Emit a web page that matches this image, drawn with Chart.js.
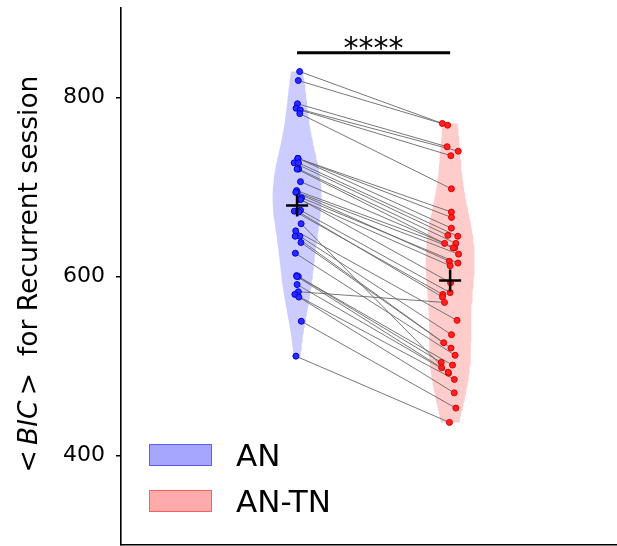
<!DOCTYPE html>
<html><head><meta charset="utf-8">
<script src="https://cdn.jsdelivr.net/npm/chart.js@4.4.1/dist/chart.umd.min.js"></script>
<style>html,body{margin:0;padding:0;background:#fff;}canvas{display:block;}</style>
</head><body>
<canvas id="c" width="617" height="546"></canvas>
<script>
// ---- data ----
const categories = ['AN', 'AN-TN'];
const anValues = [829, 819, 793, 788, 786, 782, 732, 732, 732, 727, 727, 720, 720, 706, 696, 694, 694, 688, 686, 686, 674, 673, 672, 659, 651, 645, 645, 638, 626, 601, 600, 600, 591, 583, 580, 577, 550, 511];
const antnValues = [771, 769, 745, 740, 735, 698, 672, 666, 654, 646, 645, 637, 637, 632, 632, 625, 617, 615, 612, 593, 582, 580, 577, 492, 551, 535, 526, 520, 512, 504, 501, 498, 493, 571, 485, 470, 453, 437];
const yTicks = [400, 600, 800];
const yRange = [300, 900];
const sigLevel = 850;
const sigText = '****';
const yTitleParts = [['<', false], ['\u2009', false], ['BIC', true], ['\u2009', false], ['>', false], ['  for Recurrent session', false]];

// ---- styling / layout ----
const FONT = '"DejaVu Sans", sans-serif';
const centers = [0, 1];
const violinHalf = 0.16;
const jitterWidth = [0.05, 0.12];
const jitterShift = [0.005, 0];
const violinFill = ['rgba(0,0,255,0.2)', 'rgba(255,0,0,0.2)'];
const legendFill = ['rgba(0,0,255,0.35)', 'rgba(255,0,0,0.33)'];
const legendEdge = ['rgba(0,0,255,0.45)', 'rgba(255,0,0,0.45)'];
const pointFill = ['#2b2bff', '#ff2020'];
const pointEdge = ['#0000dd', '#e00000'];

function jit(i, g) {
  const s = Math.sin((i + 1) * 12.9898 + (g + 1) * 78.233) * 43758.5453;
  return (s - Math.floor(s)) - 0.5;
}
function mean(a) { return a.reduce((s, v) => s + v, 0) / a.length; }
function violinOutline(vals, c) {
  const n = vals.length, m = mean(vals);
  const sd = Math.sqrt(vals.reduce((s, v) => s + (v - m) * (v - m), 0) / (n - 1));
  const bw = sd * Math.pow(n, -0.2);
  const lo = Math.min(...vals), hi = Math.max(...vals);
  const M = 100, ys = [], ds = [];
  for (let k = 0; k <= M; k++) {
    const y = lo + (hi - lo) * k / M;
    let d = 0;
    for (const v of vals) { const z = (y - v) / bw; d += Math.exp(-0.5 * z * z); }
    ys.push(y); ds.push(d);
  }
  const dmax = Math.max(...ds);
  const w = ds.map(d => d / dmax * violinHalf);
  let kmax = w.indexOf(Math.max(...w));
  const pts = [];
  for (let k = kmax; k >= 0; k--) pts.push({x: c - w[k], y: ys[k]});
  for (let k = 0; k <= M; k++) pts.push({x: c + w[k], y: ys[k]});
  for (let k = M; k >= kmax; k--) pts.push({x: c - w[k], y: ys[k]});
  pts.push({x: c + w[kmax], y: ys[kmax]});
  return pts;
}

const groups = [anValues, antnValues];
const xs = groups.map((vals, g) => vals.map((v, i) => centers[g] + jitterShift[g] + jit(i, g) * jitterWidth[g]));

const datasets = [];
groups.forEach((vals, g) => {
  datasets.push({label: categories[g], data: violinOutline(vals, centers[g]), fill: 'shape',
    backgroundColor: violinFill[g], borderColor: 'rgba(0,0,0,0)', borderWidth: 0, pointRadius: 0, order: 30, isViolin: true});
});
for (let i = 0; i < anValues.length; i++) {
  datasets.push({label: 'pair' + i, data: [{x: xs[0][i], y: anValues[i]}, {x: xs[1][i], y: antnValues[i]}],
    borderColor: 'rgba(105,105,105,0.9)', borderWidth: 1, pointRadius: 0, fill: false, order: 20});
}
groups.forEach((vals, g) => {
  datasets.push({label: categories[g] + ' points', data: vals.map((v, i) => ({x: xs[g][i], y: v})), showLine: false,
    pointRadius: 3, pointBorderWidth: 1, pointBackgroundColor: pointFill[g], pointBorderColor: pointEdge[g], order: 10});
});
datasets.push({label: 'sig', data: [{x: centers[0], y: sigLevel}, {x: centers[1], y: sigLevel}],
  borderColor: '#000', borderWidth: 3, pointRadius: 0, fill: false, order: 5});
datasets.push({label: 'means', data: groups.map((vals, g) => ({x: centers[g], y: mean(vals)})), showLine: false,
  pointStyle: 'cross', pointRadius: 11, pointBorderWidth: 2.5, pointBorderColor: '#000', order: 0});

const annot = {
  id: 'annot',
  afterDraw(chart) {
    const ctx = chart.ctx, sx = chart.scales.x, sy = chart.scales.y;
    ctx.save();
    ctx.fillStyle = '#000';
    // significance stars
    ctx.font = '30px ' + FONT;
    ctx.textAlign = 'center'; ctx.textBaseline = 'alphabetic';
    ctx.fillText(sigText, sx.getPixelForValue((centers[0] + centers[1]) / 2), sy.getPixelForValue(sigLevel) + 5);
    // legend
    const vds = chart.data.datasets.filter(d => d.isViolin);
    ctx.textAlign = 'left';
    vds.forEach((d, i) => {
      const top = 444 + i * 46;
      ctx.fillStyle = legendFill[i]; ctx.fillRect(149, top, 63, 22);
      ctx.strokeStyle = legendEdge[i]; ctx.lineWidth = 1; ctx.strokeRect(149.5, top + 0.5, 62, 21);
      ctx.fillStyle = '#000'; ctx.font = '31px ' + FONT;
      ctx.fillText(d.label, 236, top + 22);
    });
    // y title
    const size = 26.5;
    const fontOf = it => (it ? 'italic ' : '') + size + 'px ' + FONT;
    let total = 0;
    yTitleParts.forEach(([t, it]) => { ctx.font = fontOf(it); total += ctx.measureText(t).width; });
    ctx.translate(30, 274);
    ctx.rotate(-Math.PI / 2);
    ctx.textBaseline = 'middle';
    let x = -total / 2;
    yTitleParts.forEach(([t, it]) => { ctx.font = fontOf(it); ctx.fillText(t, x, 0); x += ctx.measureText(t).width; });
    ctx.restore();
  }
};

new Chart(document.getElementById('c'), {
  type: 'line',
  data: {datasets},
  options: {
    responsive: false, animation: false, devicePixelRatio: 1, events: [],
    layout: {padding: {top: 8, left: 0, right: 0, bottom: 0}, autoPadding: false},
    plugins: {legend: {display: false}, tooltip: {enabled: false}},
    scales: {
      x: {type: 'linear', min: -1.15, max: 2.09,
        ticks: {display: false}, grid: {display: false, drawTicks: false},
        border: {display: true, color: '#000', width: 1.5},
        afterFit: s => { s.height = 1; s.paddingLeft = 0; s.paddingRight = 0; }},
      y: {type: 'linear', min: yRange[0], max: yRange[1],
        afterBuildTicks: s => { s.ticks = yTicks.map(v => ({value: v})); },
        ticks: {color: '#000', font: {family: FONT, size: 22}, padding: 11},
        grid: {display: true, drawOnChartArea: false, drawTicks: true, tickLength: 5, color: '#000', lineWidth: 1.5},
        border: {display: true, color: '#000', width: 1.6},
        afterFit: s => { s.width = 121; s.paddingTop = 0; s.paddingBottom = 0; }}
    }
  },
  plugins: [annot]
});
</script>
</body></html>
